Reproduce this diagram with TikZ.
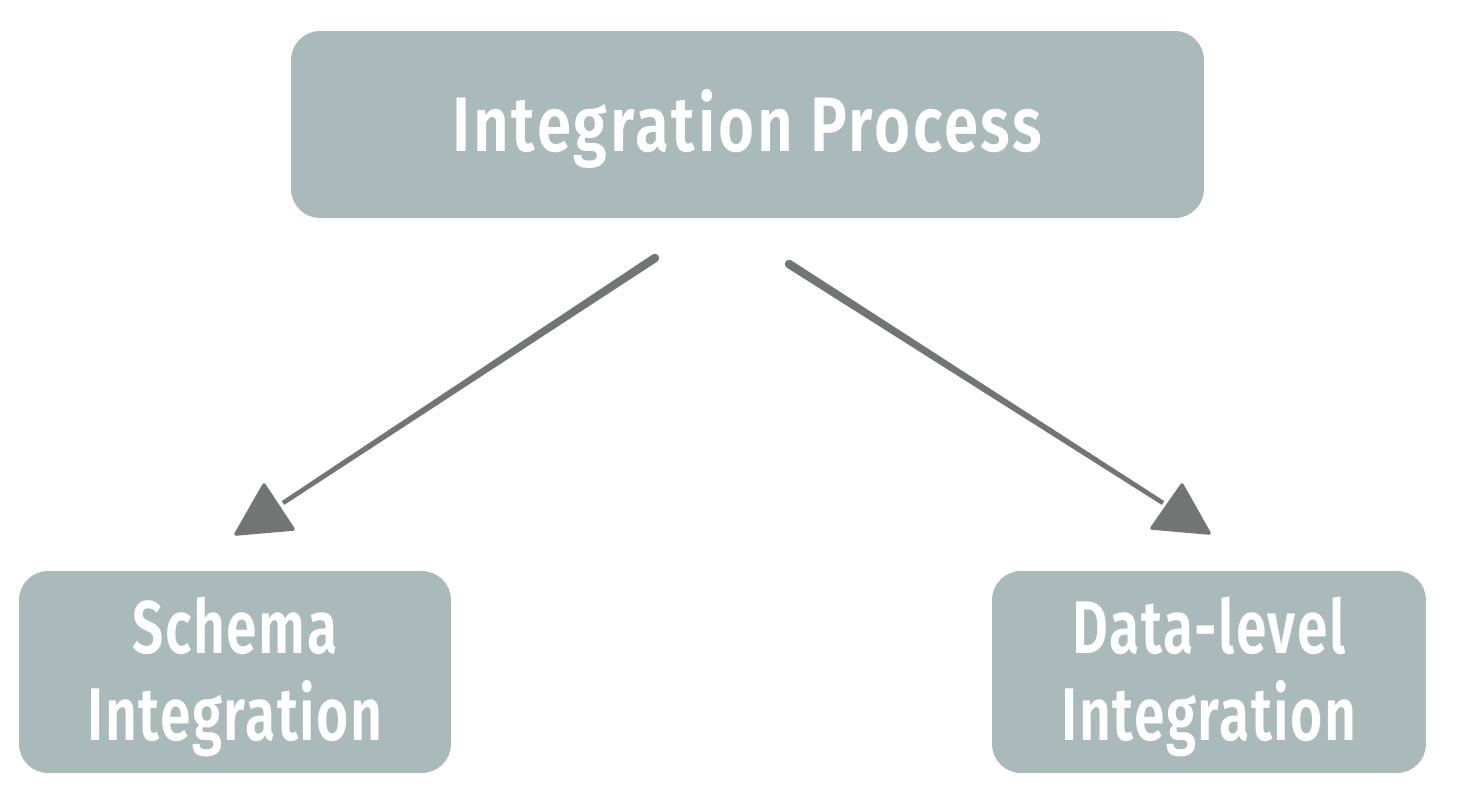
\documentclass[tikz,border=0pt]{standalone}
\usepackage{fontspec}
\usetikzlibrary{calc}
\newfontfamily\topfont{Fira Sans}[UprightFont=* SemiBold, FakeStretch=0.80, LetterSpace=3.5]
\newfontfamily\subfont{Fira Sans}[UprightFont=* SemiBold, FakeStretch=0.74, LetterSpace=2.1]
\definecolor{boxgray}{HTML}{AAB9B9}
\definecolor{arrowgray}{HTML}{737574}
\begin{document}
\begin{tikzpicture}[x=0.02cm,y=-0.02cm,
  box/.style={fill=boxgray,rounded corners=0.58cm,inner sep=0pt},
  boxtext/.style={text=white,align=center,inner sep=0pt},
  tip/.style={fill=arrowgray,draw=arrowgray,line width=2pt,line join=round}]
\useasboundingbox (0,0) rectangle (1458,802);
\node[box,minimum width=18.26cm,minimum height=3.74cm] (proc) at (747.5,124.5) {};
\node[box,minimum width=8.64cm,minimum height=4.04cm] (schema) at (235,672) {};
\node[box,minimum width=8.68cm,minimum height=4.04cm] (data) at (1209,672) {};
\node[boxtext,font=\topfont\fontsize{44}{50}\selectfont] (proctext) at ([yshift=-0.08cm]proc) {Integration Process};
\node[boxtext,font=\subfont\fontsize{42.5}{50}\selectfont] (schematext) at ([yshift=-0.1cm]schema) {Schema\\Integration};
\node[boxtext,font=\subfont\fontsize{42.5}{50}\selectfont] (datatext) at ([yshift=-0.1cm]data) {Data-level\\Integration};
\coordinate (ls) at (655,258);
\coordinate (le) at (283,503);
\coordinate (rs) at (789,264);
\coordinate (re) at (1163,503);
\fill[arrowgray] (ls) circle (0.085cm);
\fill[arrowgray] ($(ls)!0.085cm!90:(le)$) -- ($(le)!0.045cm!-90:(ls)$)
  -- ($(le)!0.045cm!90:(ls)$) -- ($(ls)!0.085cm!-90:(le)$) -- cycle;
\fill[arrowgray] (rs) circle (0.085cm);
\fill[arrowgray] ($(rs)!0.085cm!90:(re)$) -- ($(re)!0.045cm!-90:(rs)$)
  -- ($(re)!0.045cm!90:(rs)$) -- ($(rs)!0.085cm!-90:(re)$) -- cycle;
\filldraw[tip] (264,485) -- (236,534) -- (293,529) -- cycle;
\filldraw[tip] (1182,485) -- (1152,528) -- (1209,533) -- cycle;
\end{tikzpicture}
\end{document}
